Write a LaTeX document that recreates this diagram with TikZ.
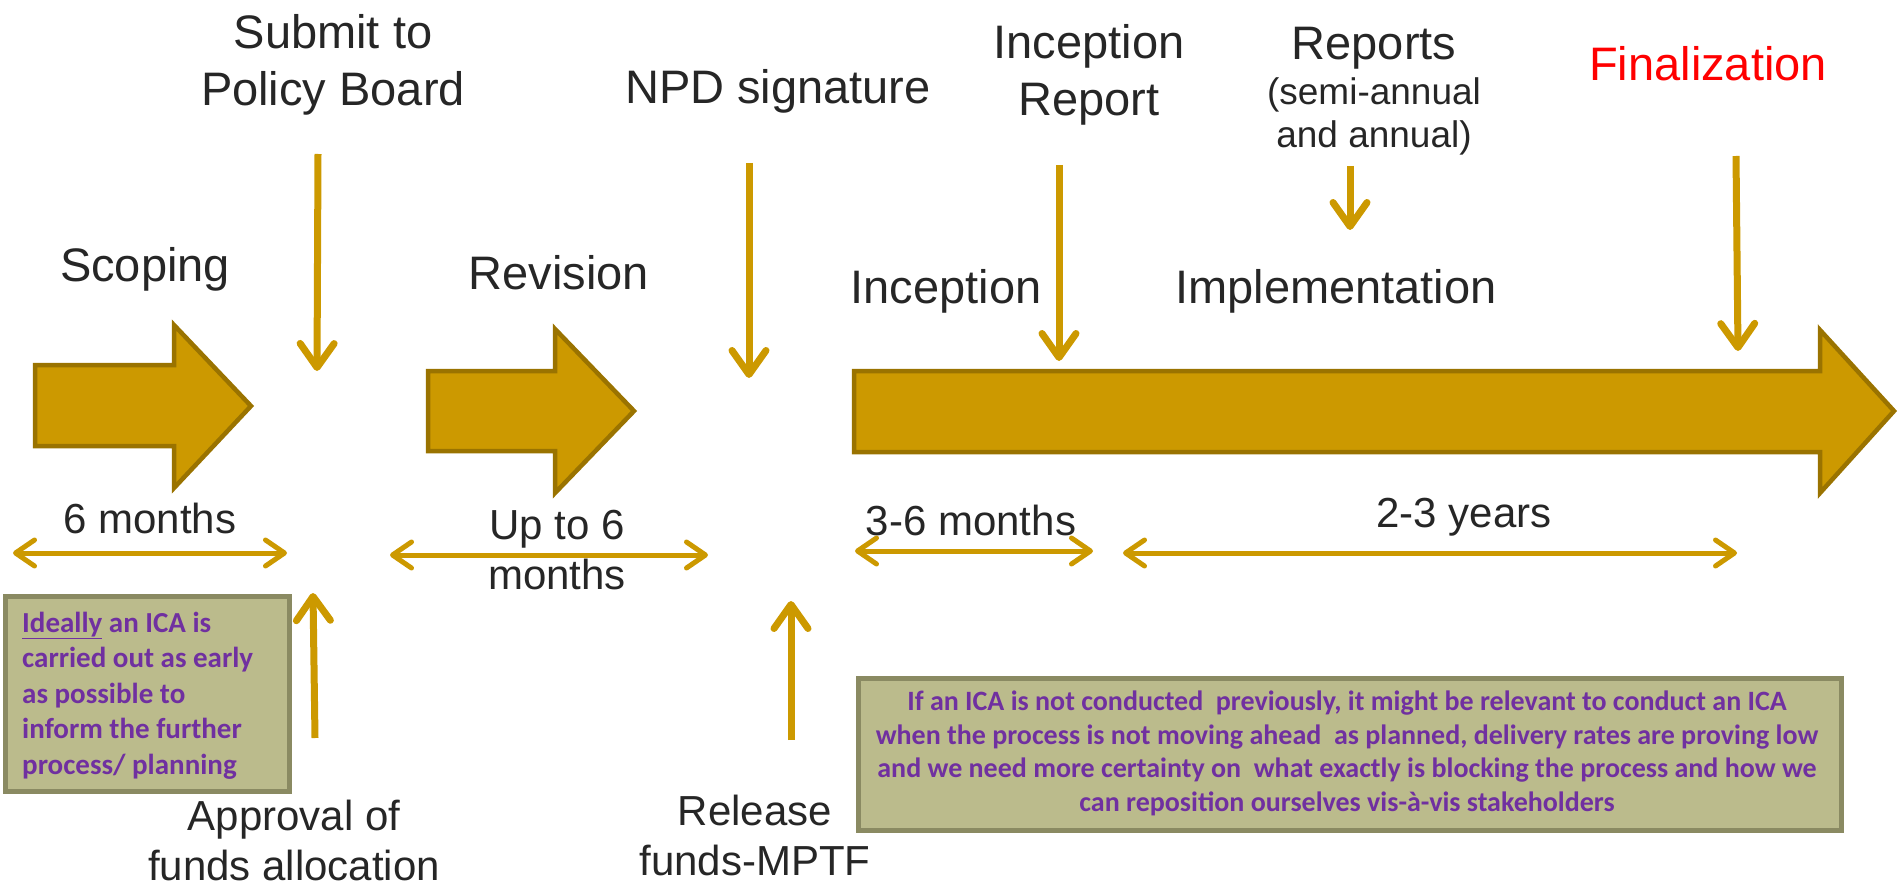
\documentclass[tikz,border=0pt]{standalone}
\usepackage{fontspec}
\setmainfont{Liberation Sans}
\newfontfamily\calibrifont{Carlito}
\usetikzlibrary{arrows.meta}
\definecolor{gold}{HTML}{CC9900}
\definecolor{golddark}{HTML}{9A7300}
\definecolor{txt}{HTML}{262626}
\definecolor{boxfill}{HTML}{BBBB8C}
\definecolor{boxline}{HTML}{8A8A62}
\definecolor{purp}{HTML}{7030A0}
\begin{document}
\begin{tikzpicture}[x=1pt,y=-1pt,
  lbl/.style={text=txt, inner sep=0pt, anchor=base, font=\fontsize{47}{57}\selectfont, align=center},
  dur/.style={text=txt, inner sep=0pt, anchor=base, font=\fontsize{42}{50}\selectfont, align=center},
  blockarrow/.style={fill=gold, draw=golddark, line width=4.5pt, line join=miter},
  pointer/.style={draw=gold, line width=7pt, -{Straight Barb[length=24pt,width=34pt,round]}},
  span/.style={draw=gold, line width=5pt, {Straight Barb[length=19pt,width=26pt,round]}-{Straight Barb[length=19pt,width=26pt,round]}},
  note/.style={fill=boxfill, draw=boxline, line width=5pt, inner sep=0pt, anchor=north west},
  notetext/.style={text=purp, inner sep=0pt, font=\calibrifont\bfseries}
]
\useasboundingbox (0,0) rectangle (1897,885);

% block arrows
\draw[blockarrow] (35,365) -- (174,365) -- (174,325) -- (251,406) -- (174,488) -- (174,446) -- (35,446) -- cycle;
\draw[blockarrow] (428,371) -- (555,371) -- (555,329) -- (634,411) -- (555,493) -- (555,451) -- (428,451) -- cycle;
\draw[blockarrow] (854,371) -- (1820,371) -- (1820,330) -- (1894,411) -- (1820,493) -- (1820,452) -- (854,452) -- cycle;

% top labels (anchor=base is the baseline of the last line)
\node[lbl] (submit) at (333,106) {Submit to\\Policy Board};
\node[lbl] (npd) at (778,104) {NPD signature};
\node[lbl] (increp) at (1089,116) {Inception\\Report};
\node[lbl] (reports) at (1374,60) {Reports};
\node[text=txt, inner sep=0pt, anchor=base, font=\fontsize{37}{43}\selectfont, align=center] (semi) at (1374,148) {(semi-annual\\and annual)};
\node[lbl, text=red] (final) at (1708,81) {Finalization};

% phase labels
\node[lbl] (scoping) at (145,281) {Scoping};
\node[lbl] (revision) at (559,290) {Revision};
\node[lbl] (inception) at (946,303) {Inception};
\node[lbl] (impl) at (1336,303) {Implementation};

% duration labels
\node[dur] (d1) at (150,533) {6 months};
\node[dur] (d2) at (557,589) {Up to 6\\months};
\node[dur] (d3) at (971,535) {3-6 months};
\node[dur] (d4) at (1464,527) {2-3 years};

% bottom labels
\node[dur] (approval) at (294,880) {Approval of\\funds allocation};
\node[dur] (release) at (755,875) {Release\\funds-MPTF};

% vertical pointers
\coordinate (s0) at (318,154); \coordinate (s1) at (317,371);
\coordinate (n0) at (749,163); \coordinate (n1) at (749,378);
\coordinate (i0) at (1059,165); \coordinate (i1) at (1059,361);
\coordinate (r0) at (1350,166); \coordinate (r1) at (1350,230);
\coordinate (f0) at (1736,156); \coordinate (f1) at (1738,351);
\coordinate (a0) at (315,738); \coordinate (a1) at (313,593);
\coordinate (m0) at (791,740); \coordinate (m1) at (791,601);
\draw[pointer] (s0) -- (s1);
\draw[pointer] (n0) -- (n1);
\draw[pointer] (i0) -- (i1);
\draw[pointer] (r0) -- (r1);
\draw[pointer] (f0) -- (f1);
\draw[pointer] (a0) -- (a1);
\draw[pointer] (m0) -- (m1);

% duration spans
\coordinate (p1a) at (13,553); \coordinate (p1b) at (287,553);
\coordinate (p2a) at (390,555); \coordinate (p2b) at (708,555);
\coordinate (p3a) at (855,551); \coordinate (p3b) at (1093,551);
\coordinate (p4a) at (1123,553); \coordinate (p4b) at (1737,553);
\draw[span] (p1a) -- (p1b);
\draw[span] (p2a) -- (p2b);
\draw[span] (p3a) -- (p3b);
\draw[span] (p4a) -- (p4b);

% note boxes
\node[note, minimum width=284pt, minimum height=195pt] (box1) at (3,594) {};
\node[notetext, anchor=base west, align=left, font=\calibrifont\bfseries\fontsize{29}{35.5}\selectfont] (box1txt) at (22,774)
  {\underline{Ideally} an ICA is\\carried out as early\\as possible to\\inform the further\\process/ planning};
\node[note, minimum width=983pt, minimum height=152pt] (box2) at (855.5,675.5) {};
\node[notetext, anchor=base, align=center, font=\calibrifont\bfseries\fontsize{28}{33.5}\selectfont] (box2txt) at (1347,811)
  {If an ICA is not conducted\ \ previously, it might be relevant to conduct an ICA\\
   when the process is not moving ahead\ \ as planned, delivery rates are proving low\\
   and we need more certainty on\ \ what exactly is blocking the process and how we\\
   can reposition ourselves vis-à-vis stakeholders};
\end{tikzpicture}
\end{document}
